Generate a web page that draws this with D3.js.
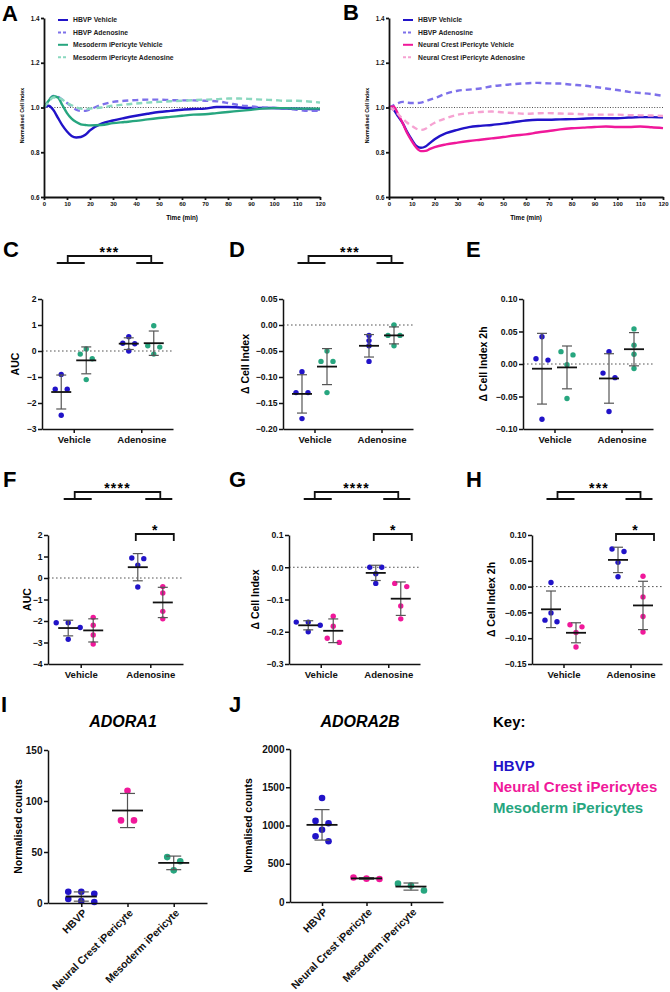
<!DOCTYPE html>
<html><head><meta charset="utf-8">
<script src="https://cdn.jsdelivr.net/npm/d3@7"></script>
<style>
body{margin:0;background:#fff}
svg text{font-family:"Liberation Sans",Arial,sans-serif}
</style>
</head><body>
<svg id="fig" width="670" height="992"></svg>
<script>
// ---------------- DATA ----------------
const timeMin = [0,2,4,6,8,10,12,14,16,18,20,25,30,35,40,45,50,55,60,65,70,75,80,85,90,95,100,105,110,115,120];
// Panel A
const aHbvpVehicle   = [1.000,1.008,0.990,0.955,0.920,0.893,0.873,0.866,0.868,0.878,0.898,0.928,0.942,0.953,0.963,0.972,0.980,0.985,0.990,0.993,0.995,1.002,1.002,1.000,0.998,0.998,0.998,0.995,0.995,0.993,0.992];
const aHbvpAdenosine = [1.000,1.030,1.052,1.048,1.035,1.020,1.005,0.990,0.985,0.985,0.992,1.012,1.025,1.030,1.033,1.035,1.035,1.033,1.032,1.032,1.030,1.028,1.020,1.010,1.005,1.000,0.998,0.995,0.990,0.985,0.985];
const aMesoVehicle   = [1.000,1.030,1.050,1.045,1.010,0.975,0.950,0.935,0.925,0.922,0.920,0.922,0.930,0.935,0.940,0.947,0.953,0.958,0.963,0.968,0.970,0.975,0.980,0.985,0.990,0.995,0.997,0.997,0.995,0.995,0.995];
const aMesoAdenosine = [1.000,1.025,1.045,1.045,1.035,1.020,1.010,1.000,0.995,0.993,0.995,1.000,1.008,1.013,1.018,1.022,1.025,1.028,1.030,1.033,1.035,1.037,1.040,1.040,1.038,1.035,1.033,1.030,1.030,1.027,1.022];
// Panel B
const bHbvpVehicle   = [1.000,0.990,0.960,0.930,0.890,0.856,0.828,0.820,0.826,0.842,0.858,0.885,0.900,0.912,0.918,0.922,0.928,0.935,0.942,0.945,0.945,0.947,0.948,0.950,0.952,0.952,0.952,0.955,0.957,0.957,0.956];
const bHbvpAdenosine = [1.000,1.010,1.020,1.025,1.022,1.020,1.020,1.022,1.028,1.035,1.042,1.062,1.075,1.080,1.085,1.095,1.100,1.105,1.108,1.110,1.108,1.107,1.102,1.098,1.092,1.085,1.078,1.070,1.065,1.060,1.052];
const bNcVehicle     = [1.000,1.005,0.970,0.930,0.885,0.850,0.820,0.805,0.806,0.815,0.823,0.835,0.843,0.850,0.856,0.862,0.868,0.875,0.880,0.888,0.895,0.902,0.907,0.910,0.913,0.915,0.913,0.913,0.915,0.912,0.908];
const bNcAdenosine   = [1.000,0.990,0.970,0.950,0.932,0.918,0.905,0.900,0.905,0.920,0.932,0.952,0.968,0.975,0.980,0.982,0.978,0.975,0.972,0.974,0.975,0.973,0.972,0.970,0.968,0.968,0.968,0.966,0.965,0.964,0.962];

const treatments = ["Vehicle","Adenosine"];
// C: AUC (HBVP vs Mesoderm)  [Vehicle, Adenosine]
const cHbvp = [[-0.9,-1.47,-1.47,-2.47],[0.55,0.3,0.28,0.0]];
const cMeso = [[0.08,-0.12,-0.3,-1.1],[0.97,0.2,0.15,-0.12]];
// D: Δ Cell Index
const dHbvp = [[-0.09,-0.13,-0.13,-0.18],[-0.02,-0.03,-0.04,-0.07]];
const dMeso = [[-0.05,-0.07,-0.07,-0.13],[0.0,-0.02,-0.02,-0.04]];
// E: Δ Cell Index 2h
const eHbvp = [[0.042,0.008,0.006,-0.085],[0.019,-0.014,-0.021,-0.073]];
const eMeso = [[0.014,0.019,-0.001,-0.053],[0.054,0.029,0.015,-0.007]];
// F: AUC (HBVP vs Neural Crest)
const fHbvp = [[-2.08,-2.08,-2.3,-2.85],[0.93,0.9,0.6,-0.42]];
const fNc   = [[-1.83,-2.2,-2.65,-3.07],[-0.4,-0.7,-1.55,-1.9]];
// G
const gHbvp = [[-0.17,-0.17,-0.18,-0.2],[0.0,0.0,-0.02,-0.05]];
const gNc   = [[-0.152,-0.183,-0.22,-0.233],[-0.05,-0.06,-0.12,-0.16]];
// H
const hHbvp = [[0.008,-0.051,-0.068,-0.065],[0.068,0.073,0.047,0.019]];
const hNc   = [[-0.078,-0.074,-0.089,-0.117],[0.02,-0.02,-0.058,-0.088]];
// I / J
const cellTypes = ["HBVP","Neural Crest iPericyte","Mesoderm iPericyte"];
const adora1  = [[11,11,9,4,1,2],[110,81,81],[45,41,32]];
const adora2b = [[1360,1060,1030,945,860,795],[300,320,305],[240,150,215]];
const keyLabels = ["HBVP","Neural Crest iPericytes","Mesoderm iPericytes"];

// ---------------- STYLE ----------------
const BLUE="#2113c8", PINK="#f0189a", GREEN="#27a67f";
const BLUE_L="#7d70ea", PINK_L="#f6a2d2", GREEN_L="#8ad8bf";

const svg = d3.select("#fig");

function styleAxis(sel, w, fs){
  sel.select(".domain").attr("stroke","#111").attr("stroke-width",w);
  sel.selectAll(".tick line").attr("stroke","#111").attr("stroke-width",w);
  sel.selectAll(".tick text").attr("font-size",fs).attr("font-weight","bold").attr("fill","#111")
     .attr("font-family",'"Liberation Sans",Arial,sans-serif');
}

// ---------- Time course panels ----------
function timePanel(o){
  const g = svg.append("g");
  const x = d3.scaleLinear().domain([0,120]).range([o.x0,o.x1]);
  const y = d3.scaleLinear().domain([0.6,1.4]).range([o.yBot,o.yTop]);
  g.append("line").attr("x1",x(0)).attr("x2",x(120)).attr("y1",y(1)).attr("y2",y(1))
    .attr("stroke","#222").attr("stroke-width",0.8).attr("stroke-dasharray","1,1.6");
  const line = d3.line().x((d,i)=>x(timeMin[i])).y(d=>y(d)).curve(d3.curveMonotoneX);
  o.series.forEach(s=>{
    g.append("path").datum(s.v).attr("d",line).attr("fill","none")
      .attr("stroke",s.c).attr("stroke-width",2.4)
      .attr("stroke-dasharray",s.dash?"6,4":null);
  });
  const ya = g.append("g").attr("transform",`translate(${o.x0},0)`)
    .call(d3.axisLeft(y).tickValues([0.6,0.8,1.0,1.2,1.4]).tickFormat(d3.format(".1f")).tickSize(3).tickSizeOuter(0).tickPadding(1.5));
  styleAxis(ya,1.8,6.3);
  const xa = g.append("g").attr("transform",`translate(0,${o.yBot})`)
    .call(d3.axisBottom(x).tickValues(d3.range(0,121,10)).tickSize(3).tickSizeOuter(0).tickPadding(1.5));
  styleAxis(xa,1.8,6);
  g.append("text").attr("x",(o.x0+o.x1)/2).attr("y",o.yBot+23).attr("text-anchor","middle")
    .attr("font-size",6.3).attr("font-weight","bold").text("Time (min)");
  g.append("text").attr("transform",`translate(${o.ylx},${(o.yTop+o.yBot)/2+8}) rotate(-90)`)
    .attr("text-anchor","middle").attr("font-size",5.3).attr("font-weight","bold").text("Normalised Cell Index");
  // legend
  o.series.forEach((s,i)=>{
    const yy = o.yTop + 2 + i*12.4;
    g.append("line").attr("x1",o.x0+14).attr("x2",o.x0+24).attr("y1",yy).attr("y2",yy)
      .attr("stroke",s.c).attr("stroke-width",2).attr("stroke-dasharray",s.dash?"3,2":null);
    g.append("text").attr("x",o.x0+29).attr("y",yy+2.3).attr("font-size",6.8).attr("font-weight","bold")
      .attr("fill","#222").text(s.name);
  });
}

timePanel({x0:44,x1:320,yTop:18,yBot:197,ylx:24,series:[
  {name:"HBVP Vehicle",v:aHbvpVehicle,c:BLUE,dash:false},
  {name:"HBVP Adenosine",v:aHbvpAdenosine,c:BLUE_L,dash:true},
  {name:"Mesoderm iPericyte Vehicle",v:aMesoVehicle,c:GREEN,dash:false},
  {name:"Mesoderm iPericyte Adenosine",v:aMesoAdenosine,c:GREEN_L,dash:true}
]});
timePanel({x0:389,x1:663,yTop:18,yBot:197,ylx:369,series:[
  {name:"HBVP Vehicle",v:bHbvpVehicle,c:BLUE,dash:false},
  {name:"HBVP Adenosine",v:bHbvpAdenosine,c:BLUE_L,dash:true},
  {name:"Neural Crest iPericyte Vehicle",v:bNcVehicle,c:PINK,dash:false},
  {name:"Neural Crest iPericyte Adenosine",v:bNcAdenosine,c:PINK_L,dash:true}
]});

// ---------- scatter helpers ----------
function swarm(vals, y, cx, thresh, s){
  const pts = vals.map(v=>({v, y:y(v)})).sort((a,b)=>a.y-b.y);
  const clusters=[]; let cur=[pts[0]];
  for(let i=1;i<pts.length;i++){
    if(pts[i].y-pts[i-1].y < thresh) cur.push(pts[i]); else {clusters.push(cur); cur=[pts[i]];}
  }
  clusters.push(cur);
  clusters.forEach(c=>{
    for(let k=0;k<c.length;k+=3){
      const row=c.slice(k,k+3);
      row.forEach((p,i)=>p.x = cx + (i-(row.length-1)/2)*s);
    }
  });
  return pts;
}

function groupMarks(g, vals, y, cx, color, r, thresh, s, meanW, capW){
  const pts = swarm(vals, y, cx, thresh, s);
  g.selectAll(null).data(pts).enter().append("circle")
    .attr("cx",d=>d.x).attr("cy",d=>d.y).attr("r",r).attr("fill",color);
  const m = d3.mean(vals), sd = d3.deviation(vals);
  g.append("line").attr("x1",cx).attr("x2",cx).attr("y1",y(m+sd)).attr("y2",y(m-sd))
    .attr("stroke","#555").attr("stroke-width",1.2);
  [m+sd,m-sd].forEach(v=>g.append("line").attr("x1",cx-capW/2).attr("x2",cx+capW/2)
    .attr("y1",y(v)).attr("y2",y(v)).attr("stroke","#555").attr("stroke-width",1.2));
  g.append("line").attr("x1",cx-meanW/2).attr("x2",cx+meanW/2).attr("y1",y(m)).attr("y2",y(m))
    .attr("stroke","#111").attr("stroke-width",1.8);
}

function scatterPanel(o){
  const g = svg.append("g");
  const y = d3.scaleLinear().domain(o.domain).range([o.yBot,o.yTop]);
  const x = d3.scalePoint().domain(o.cats).range([o.x0,o.x1]).padding(o.pad);
  if(o.zero){
    g.append("line").attr("x1",o.x0).attr("x2",o.x1).attr("y1",y(0)).attr("y2",y(0))
      .attr("stroke","#555").attr("stroke-width",1).attr("stroke-dasharray","1.6,2.4");
  }
  o.series.forEach(s=>{
    o.cats.forEach((c,i)=>{
      groupMarks(g, s.values[i], y, x(c)+s.dx, s.colors?s.colors[i]:s.color, o.r, o.thresh, o.spacing, o.meanW, o.capW);
    });
  });
  const ya = g.append("g").attr("transform",`translate(${o.x0},0)`)
    .call(d3.axisLeft(y).tickValues(o.ticks).tickFormat(o.fmt).tickSize(4).tickSizeOuter(0).tickPadding(1.5));
  styleAxis(ya,1.5,o.tickFs);
  const xa = g.append("g").attr("transform",`translate(0,${o.yBot})`)
    .call(d3.axisBottom(x).tickSize(4).tickSizeOuter(0).tickPadding(3));
  styleAxis(xa,1.5,o.catFs);
  if(o.rotate){
    xa.selectAll(".tick text").attr("y",0).attr("x",0).attr("dy","0.35em")
      .attr("transform","translate(3,8) rotate(-45)").attr("text-anchor","end");
  }
  g.append("text").attr("transform",`translate(${o.ylx},${(o.yTop+o.yBot)/2}) rotate(-90)`)
    .attr("text-anchor","middle").attr("font-size",o.ylFs).attr("font-weight","bold").text(o.ylabel);
  return {x,y,g};
}

function mainBracket(p, top, stars){
  const xv = p.x("Vehicle"), xa = p.x("Adenosine");
  const g = p.g, leg = top+7;
  const path = `M${xv-17},${leg}H${xv+11}M${xv-6},${leg}V${top}H${xa+10}V${leg}M${xa-5},${leg}H${xa+22}`;
  g.append("path").attr("d",path).attr("fill","none").attr("stroke","#111").attr("stroke-width",1.8);
  g.append("text").attr("x",(xv-6+xa+10)/2).attr("y",top+1).attr("text-anchor","middle")
    .attr("font-size",14).attr("font-weight","bold").attr("letter-spacing",1.2).text(stars);
}
function pairBracket(p, top, off){
  const xa = p.x("Adenosine");
  const x1 = xa-off-2, x2 = xa+off+11;
  p.g.append("path").attr("d",`M${x1},${top+7}V${top}H${x2}V${top+7}`).attr("fill","none")
    .attr("stroke","#111").attr("stroke-width",1.8);
  p.g.append("text").attr("x",(x1+x2)/2).attr("y",top+1).attr("text-anchor","middle")
    .attr("font-size",14).attr("font-weight","bold").text("*");
}

const OFF = 12.5;
const common = {cats:treatments,pad:0.47,r:2.7,thresh:5,spacing:12,meanW:20,capW:10,tickFs:8.6,catFs:9.6,ylFs:10.5,zero:true};
const f2 = d3.format(".2f"), f1 = d3.format(".1f"), f0 = d3.format("d");

const pC = scatterPanel({...common,x0:42,x1:173,yTop:299,yBot:429,domain:[-3,2],ticks:[-3,-2,-1,0,1,2],fmt:f0,ylabel:"AUC",ylx:19,
  series:[{values:cHbvp,color:BLUE,dx:-OFF},{values:cMeso,color:GREEN,dx:OFF}]});
mainBracket(pC,256,"***");
const pD = scatterPanel({...common,x0:283,x1:413,yTop:299,yBot:429,domain:[-0.2,0.05],ticks:[-0.2,-0.15,-0.1,-0.05,0,0.05],fmt:f2,ylabel:"Δ Cell Index",ylx:249,
  series:[{values:dHbvp,color:BLUE,dx:-OFF},{values:dMeso,color:GREEN,dx:OFF}]});
mainBracket(pD,256,"***");
const pE = scatterPanel({...common,x0:523,x1:653,yTop:299,yBot:429,domain:[-0.1,0.1],ticks:[-0.1,-0.05,0,0.05,0.1],fmt:f2,ylabel:"Δ Cell Index 2h",ylx:487,
  series:[{values:eHbvp,color:BLUE,dx:-OFF},{values:eMeso,color:GREEN,dx:OFF}]});

const pF = scatterPanel({...common,x0:48,x1:183,yTop:535,yBot:664,domain:[-4,2],ticks:[-4,-3,-2,-1,0,1,2],fmt:f0,ylabel:"AUC",ylx:31,
  series:[{values:fHbvp,color:BLUE,dx:-OFF},{values:fNc,color:PINK,dx:OFF}]});
mainBracket(pF,492,"****"); pairBracket(pF,534,OFF);
const pG = scatterPanel({...common,x0:289,x1:420,yTop:535,yBot:664,domain:[-0.3,0.1],ticks:[-0.3,-0.2,-0.1,0,0.1],fmt:f1,ylabel:"Δ Cell Index",ylx:259,
  series:[{values:gHbvp,color:BLUE,dx:-OFF},{values:gNc,color:PINK,dx:OFF}]});
mainBracket(pG,492,"****"); pairBracket(pG,534,OFF);
const pH = scatterPanel({...common,x0:532,x1:662,yTop:535,yBot:664,domain:[-0.15,0.1],ticks:[-0.15,-0.1,-0.05,0,0.05,0.1],fmt:f2,ylabel:"Δ Cell Index 2h",ylx:495,
  series:[{values:hHbvp,color:BLUE,dx:-OFF},{values:hNc,color:PINK,dx:OFF}]});
mainBracket(pH,492,"***"); pairBracket(pH,534,OFF);

const ijCommon = {cats:cellTypes,pad:0.72,r:3.3,thresh:5.5,spacing:13,meanW:31,capW:15,tickFs:10,catFs:10.5,ylFs:10.5,zero:false,rotate:true};
const pI = scatterPanel({...ijCommon,x0:48,x1:207,yTop:750,yBot:903,domain:[0,150],ticks:[0,50,100,150],fmt:f0,ylabel:"Normalised counts",ylx:22,
  series:[{values:adora1,colors:[BLUE,PINK,GREEN],dx:0}]});
const pJ = scatterPanel({...ijCommon,x0:290,x1:443,yTop:749,yBot:902,domain:[0,2000],ticks:[0,500,1000,1500,2000],fmt:f0,ylabel:"Normalised counts",ylx:252,
  series:[{values:adora2b,colors:[BLUE,PINK,GREEN],dx:0}]});

svg.append("text").attr("x",123).attr("y",727).attr("text-anchor","middle").attr("font-size",16)
  .attr("font-weight","bold").attr("font-style","italic").text("ADORA1");
svg.append("text").attr("x",360).attr("y",727).attr("text-anchor","middle").attr("font-size",16)
  .attr("font-weight","bold").attr("font-style","italic").text("ADORA2B");

// Panel letters
[["A",2,21],["B",343,20],["C",3,257],["D",229,257],["E",466,257],["F",3,487],["G",229,487],["H",466,487],["I",1,712],["J",229,712]]
  .forEach(([t,x,y])=>svg.append("text").attr("x",x).attr("y",y).attr("font-size",22).attr("font-weight","bold").attr("fill","#000").text(t));

// Key
svg.append("text").attr("x",493).attr("y",727).attr("font-size",15).attr("font-family","Lato, sans-serif").attr("font-weight","600").text("Key:");
const keyColors=[BLUE,PINK,GREEN];
keyLabels.forEach((t,i)=>svg.append("text").attr("x",493).attr("y",771+i*21).attr("font-size",15)
  .attr("font-family","Lato, sans-serif").attr("font-weight","bold").attr("fill",keyColors[i]).text(t));
</script>
</body></html>
